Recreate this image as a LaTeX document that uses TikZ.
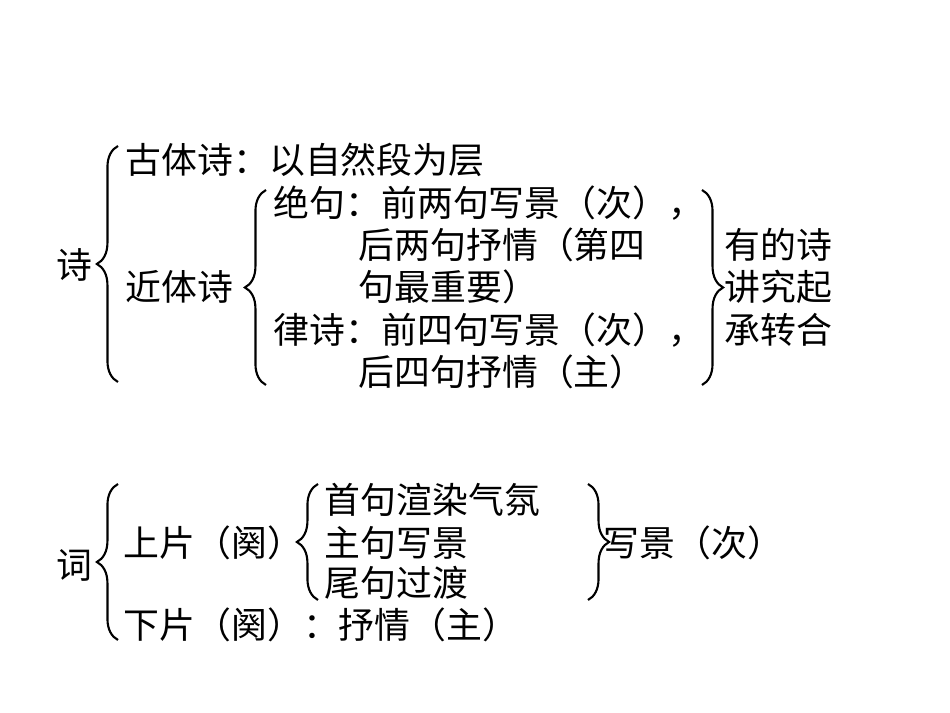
\documentclass[tikz,border=0pt]{standalone}
\usepackage{fontspec}
\setmainfont{Noto Sans CJK SC}
\usetikzlibrary{decorations.pathreplacing}
\begin{document}
\begin{tikzpicture}[x=0.01cm,y=-0.01cm,
  t/.style={anchor=west,inner sep=0pt,font=\fontsize{10.2pt}{12pt}\selectfont},
  br/.style={decorate,decoration={brace,amplitude=6pt},line width=0.6pt}]
\useasboundingbox (0,0) rectangle (950,713);
\node[t] (shi) at (56,265) {诗};
\coordinate (b1a) at (118,382); \coordinate (b1b) at (118,146);
\draw[br] (b1a) -- (b1b);
\node[t] (gu) at (125,160) {古体诗：以自然段为层};
\node[t] (jin) at (125,287) {近体诗};
\coordinate (b2a) at (266,385); \coordinate (b2b) at (266,190);
\draw[br] (b2a) -- (b2b);
\node[t] (j1) at (273,203) {绝句：前两句写景（次），};
\node[t] (j2) at (358,245) {后两句抒情（第四};
\node[t] (j3) at (358,287) {句最重要）};
\node[t] (l1) at (273,330) {律诗：前四句写景（次），};
\node[t] (l2) at (358,372) {后四句抒情（主）};
\coordinate (b3a) at (702,190); \coordinate (b3b) at (702,385);
\draw[br] (b3a) -- (b3b);
\node[t] (r1) at (724,245) {有的诗};
\node[t] (r2) at (724,287) {讲究起};
\node[t] (r3) at (724,330) {承转合};
\node[t] (ci) at (56,565) {词};
\coordinate (b4a) at (118,640); \coordinate (b4b) at (118,484);
\draw[br] (b4a) -- (b4b);
\node[t] (sp) at (123,543) {上片（阕）};
\coordinate (b5a) at (318,600); \coordinate (b5b) at (318,484);
\draw[br] (b5a) -- (b5b);
\node[t] (s1) at (324,500) {首句渲染气氛};
\node[t] (s2) at (324,543) {主句写景};
\node[t] (s3) at (324,583) {尾句过渡};
\coordinate (b6a) at (588,484); \coordinate (b6b) at (588,600);
\draw[br] (b6a) -- (b6b);
\node[t] (xj) at (603,543) {写景（次）};
\node[t] (xp) at (123,625) {下片（阕）：抒情（主）};
\end{tikzpicture}
\end{document}
